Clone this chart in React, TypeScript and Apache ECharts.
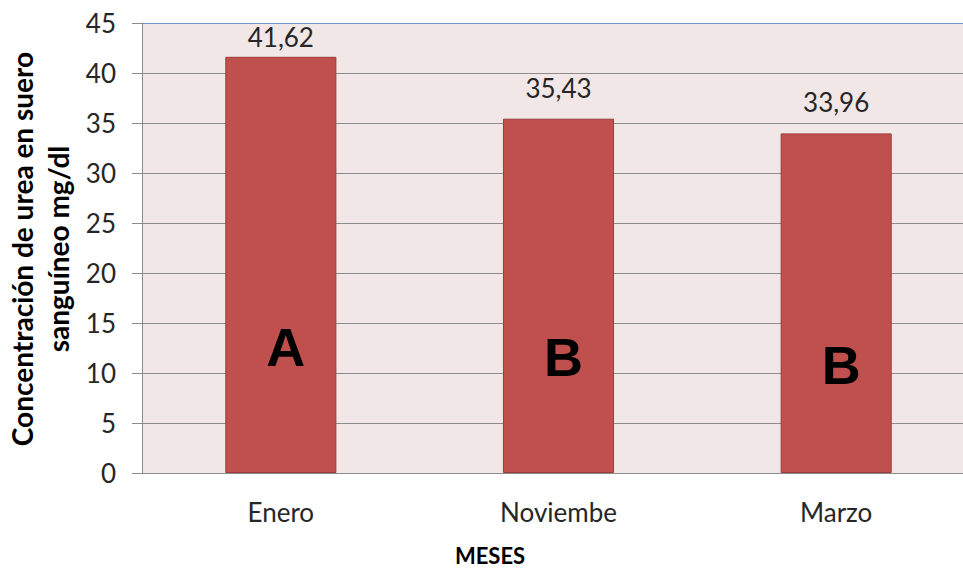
import React, { useEffect, useRef } from "react";
import * as echarts from "echarts";

const categories = ["Enero", "Noviembe", "Marzo"];
const values = [41.62, 35.43, 33.96];
const groupLetters = ["A", "B", "B"];
const letterLevels = [12.6, 11.6, 10.8];
const yTitle = "Concentración de urea en suero\nsanguíneo mg/dl";
const xTitle = "MESES";

const fmt = (v: number) => v.toFixed(2).replace(".", ",");

export default function App() {
  const ref = useRef<HTMLDivElement>(null);
  useEffect(() => {
    if (!ref.current) return;
    const chart = echarts.init(ref.current, null, { renderer: "svg" });
    const gridColors = ["#8c8c8c", "#8c8c8c", "#8c8c8c", "#8c8c8c", "#8c8c8c", "#8c8c8c", "#8c8c8c", "#8c8c8c", "#8c8c8c", "#6f93c9"];
    const labelDistances = [7, 18, 18];
    chart.setOption({
      animation: false,
      backgroundColor: "#ffffff",
      textStyle: { fontFamily: "Lato" },
      grid: {
        left: 142,
        top: 23,
        right: 0,
        bottom: 96,
        show: true,
        backgroundColor: "#f2e7e7",
        borderWidth: 0,
        containLabel: false,
      },
      xAxis: {
        type: "category",
        data: categories,
        axisTick: { show: false },
        axisLine: { lineStyle: { color: "#8c8c8c", width: 1 } },
        axisLabel: { color: "#262626", fontSize: 26, fontFamily: "Lato", margin: 26 },
      },
      yAxis: {
        type: "value",
        min: 0,
        max: 45,
        interval: 5,
        axisLine: { show: true, lineStyle: { color: "#8c8c8c", width: 1 } },
        axisTick: { show: true, length: 10, inside: false, lineStyle: { color: "#8c8c8c" } },
        axisLabel: { color: "#262626", fontSize: 26, fontFamily: "Lato", margin: 26 },
        splitLine: { show: true, lineStyle: { color: gridColors, width: 1 } },
      },
      graphic: [
        {
          type: "text",
          x: 40,
          y: 249,
          rotation: Math.PI / 2,
          style: {
            text: yTitle,
            fontFamily: "Lato",
            fontWeight: "bold",
            fontSize: 28,
            lineHeight: 36,
            fill: "#000",
            textAlign: "center",
            textVerticalAlign: "middle",
          },
        },
        {
          type: "text",
          x: 490,
          y: 555,
          style: {
            text: xTitle,
            fontFamily: "Lato",
            fontWeight: "bold",
            fontSize: 22,
            fill: "#000",
            textAlign: "center",
            textVerticalAlign: "middle",
          },
        },
      ],
      series: [
        {
          type: "bar",
          data: values.map((v, i) => ({ value: v, label: { distance: labelDistances[i] } })),
          barCategoryGap: "60%",
          itemStyle: { color: "#c0504d", borderColor: "#9b3b39", borderWidth: 1 },
          label: {
            show: true,
            position: "top",
            distance: 7,
            color: "#262626",
            fontSize: 26,
            fontFamily: "Lato",
            formatter: (p: any) => fmt(p.value),
          },
          z: 2,
        },
        {
          type: "scatter",
          data: letterLevels,
          symbolSize: 0,
          silent: true,
          itemStyle: { opacity: 1 },
          label: {
            show: true,
            position: "inside",
            offset: [5, 0],
            color: "#000000",
            opacity: 1,
            textBorderWidth: 0,
            fontSize: 54,
            fontWeight: "bold",
            fontFamily: "Liberation Sans",
            formatter: (p: any) => groupLetters[p.dataIndex],
          },
          z: 3,
        },
      ],
    });
    return () => chart.dispose();
  }, []);
  return (
    <div style={{ position: "fixed", left: 0, top: 0, width: 963, height: 569, overflow: "hidden" }}>
      <div ref={ref} style={{ width: 975, height: 569 }} />
    </div>
  );
}
